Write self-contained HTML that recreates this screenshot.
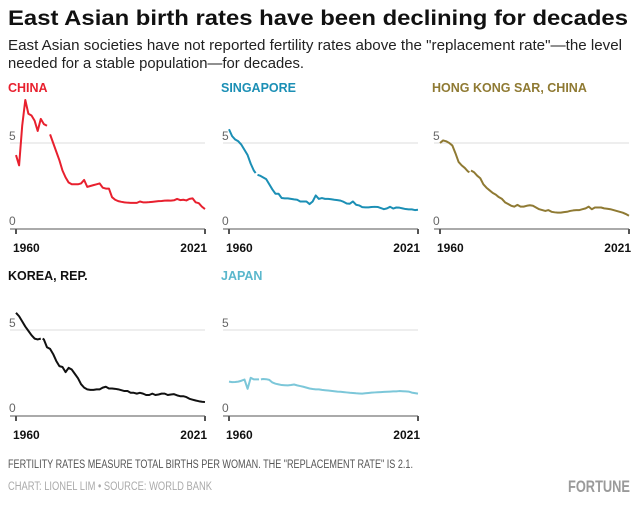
<!DOCTYPE html>
<html><head><meta charset="utf-8"><style>
body{margin:0;width:639px;height:505px;background:#fff;overflow:hidden;font-family:"Liberation Sans",sans-serif}
svg{position:absolute;left:0;top:0}
</style></head><body>
<svg width="639" height="505" viewBox="0 0 639 505" font-family="Liberation Sans, sans-serif">
<text x="8" y="25" font-size="21" font-weight="bold" fill="#111" textLength="620" lengthAdjust="spacingAndGlyphs">East Asian birth rates have been declining for decades</text>
<text x="8" y="50" font-size="15" fill="#222" textLength="614" lengthAdjust="spacingAndGlyphs">East Asian societies have not reported fertility rates above the "replacement rate"—the level</text>
<text x="8" y="68" font-size="15" fill="#222" textLength="296" lengthAdjust="spacingAndGlyphs">needed for a stable population—for decades.</text>

<defs>
<g id="axes">
<line x1="-6" y1="-86" x2="189" y2="-86" stroke="#ddd" stroke-width="1"/>
<line x1="-6" y1="0" x2="189" y2="0" stroke="#555" stroke-width="1"/>
<line x1="0" y1="0" x2="0" y2="5" stroke="#555"/>
<line x1="189" y1="0" x2="189" y2="5" stroke="#555"/>
<text x="-7" y="-89" font-size="12" fill="#666">5</text>
<text x="-7" y="-4" font-size="12" fill="#666">0</text>
<text x="-3" y="23" font-size="12" font-weight="bold" fill="#111">1960</text>
<text x="191" y="23" font-size="12" font-weight="bold" fill="#111" text-anchor="end">2021</text>
</g>
</defs>

<g font-size="12.5" font-weight="bold">
<text x="8" y="92" fill="#e8202e">CHINA</text>
<text x="221" y="92" fill="#1b8fb5">SINGAPORE</text>
<text x="432" y="92" fill="#8f7a33">HONG KONG SAR, CHINA</text>
<text x="8" y="280" fill="#111">KOREA, REP.</text>
<text x="221" y="280" fill="#5ab7cc">JAPAN</text>
</g>

<g fill="none" stroke-width="2" stroke-linejoin="round">
<g transform="translate(16,229)"><use href="#axes"/>
<g transform="scale(3.098,-17.2)">
<polyline vector-effect="non-scaling-stroke" stroke="#e8202e" points="0,4.3 1,3.7 2,6.0 3,7.5 4,6.7 5,6.6 6,6.3 7,5.7 8,6.4 9,6.1 10,6.0"/>
<polyline vector-effect="non-scaling-stroke" stroke="#e8202e" points="11,5.5 12,5.0 13,4.5 14,4.0 15,3.4 16,3.0 17,2.7 18,2.6 19,2.6 20,2.6 21,2.65 22,2.85 23,2.45 24,2.5 25,2.55 26,2.6 27,2.65 28,2.4 29,2.35 30,2.35 31,1.85 32,1.7 33,1.62 34,1.58 35,1.55 36,1.53 37,1.52 38,1.52 39,1.52 40,1.6 41,1.55 42,1.55 43,1.56 44,1.58 45,1.6 46,1.62 47,1.63 48,1.65 49,1.66 50,1.65 51,1.67 52,1.75 53,1.68 54,1.7 55,1.66 56,1.75 57,1.78 58,1.55 59,1.5 60,1.3 61,1.16"/>
</g></g>
<g transform="translate(229,229)"><use href="#axes"/>
<g transform="scale(3.098,-17.2)">
<polyline vector-effect="non-scaling-stroke" stroke="#1b8fb5" points="0,5.8 1,5.4 2,5.2 3,5.1 4,4.9 5,4.6 6,4.3 7,3.8 8,3.4 8.6,3.25"/>
<polyline vector-effect="non-scaling-stroke" stroke="#1b8fb5" points="9.2,3.15 10,3.1 11,3.0 12,2.9 13,2.6 14,2.3 15,2.05 16,2.05 17,1.8 18,1.78 19,1.78 20,1.75 21,1.72 22,1.7 23,1.6 24,1.6 25,1.6 26,1.45 27,1.6 28,1.95 29,1.75 30,1.8 31,1.75 32,1.75 33,1.73 34,1.7 35,1.68 36,1.65 37,1.58 38,1.48 39,1.47 40,1.6 41,1.41 42,1.37 43,1.27 44,1.26 45,1.26 46,1.28 47,1.29 48,1.28 49,1.22 50,1.15 51,1.2 52,1.29 53,1.19 54,1.25 55,1.24 56,1.2 57,1.16 58,1.14 59,1.14 60,1.1 61,1.12"/>
</g></g>
<g transform="translate(440,229)"><use href="#axes"/>
<g transform="scale(3.098,-17.2)">
<polyline vector-effect="non-scaling-stroke" stroke="#8f7a33" points="0,5.0 1,5.15 2,5.1 3,5.0 4,4.85 5,4.4 6,3.9 7,3.7 8,3.55 9,3.35 9.5,3.3"/>
<polyline vector-effect="non-scaling-stroke" stroke="#8f7a33" points="10,3.4 11,3.3 12,3.1 13,2.95 14,2.6 15,2.4 16,2.25 17,2.1 18,2.0 19,1.85 20,1.75 21,1.55 22,1.45 23,1.35 24,1.3 25,1.4 26,1.3 27,1.3 28,1.35 29,1.38 30,1.35 31,1.25 32,1.15 33,1.1 34,1.05 35,1.1 36,1.0 37,0.97 38,0.95 39,0.95 40,0.98 41,1.0 42,1.05 43,1.08 44,1.1 45,1.1 46,1.15 47,1.2 48,1.3 49,1.15 50,1.25 51,1.25 52,1.25 53,1.2 54,1.18 55,1.15 56,1.1 57,1.05 58,1.0 59,0.95 60,0.87 61,0.77"/>
</g></g>
<g transform="translate(16,416)"><use href="#axes"/>
<g transform="scale(3.098,-17.2)">
<polyline vector-effect="non-scaling-stroke" stroke="#111" points="0,6.0 1,5.8 2,5.5 3,5.2 4,4.95 5,4.7 6,4.5 7,4.45 8,4.5"/>
<polyline vector-effect="non-scaling-stroke" stroke="#111" points="8.6,4.5 9,4.45 10,4.0 11,3.9 12,3.6 13,3.2 14,2.9 15,2.85 16,2.55 17,2.8 18,2.7 19,2.45 20,2.2 21,1.85 22,1.65 23,1.55 24,1.52 25,1.52 26,1.55 27,1.55 28,1.65 29,1.7 30,1.6 31,1.6 32,1.58 33,1.55 34,1.5 35,1.45 36,1.45 37,1.35 38,1.35 39,1.3 40,1.35 41,1.3 42,1.22 43,1.22 44,1.3 45,1.22 46,1.25 47,1.3 48,1.3 49,1.22 50,1.25 51,1.27 52,1.2 53,1.15 54,1.15 55,1.1 56,1.0 57,0.95 58,0.9 59,0.86 60,0.83 61,0.81"/>
</g></g>
<g transform="translate(229,416)"><use href="#axes"/>
<g transform="scale(3.098,-17.2)">
<polyline vector-effect="non-scaling-stroke" stroke="#7cc7d9" points="0,2.0 1,1.97 2,1.98 3,2.0 4,2.05 5,2.12 6,1.58 7,2.22 8,2.13 9,2.13 9.7,2.13"/>
<polyline vector-effect="non-scaling-stroke" stroke="#7cc7d9" points="10.3,2.13 11,2.15 12,2.14 13,2.1 14,1.95 15,1.88 16,1.84 17,1.8 18,1.79 19,1.78 20,1.8 21,1.83 22,1.78 23,1.74 24,1.7 25,1.65 26,1.6 27,1.57 28,1.55 29,1.55 30,1.52 31,1.5 32,1.48 33,1.46 34,1.44 35,1.42 36,1.41 37,1.39 38,1.37 39,1.35 40,1.34 41,1.32 42,1.31 43,1.3 44,1.32 45,1.34 46,1.36 47,1.37 48,1.38 49,1.39 50,1.4 51,1.41 52,1.42 53,1.43 54,1.43 55,1.45 56,1.44 57,1.43 58,1.42 59,1.36 60,1.33 61,1.3"/>
</g></g>
</g>

<text x="8" y="468" font-size="11.5" fill="#555" textLength="405" lengthAdjust="spacingAndGlyphs">FERTILITY RATES MEASURE TOTAL BIRTHS PER WOMAN. THE "REPLACEMENT RATE" IS 2.1.</text>
<text x="8" y="490" font-size="11.5" fill="#aaa" textLength="204" lengthAdjust="spacingAndGlyphs">CHART: LIONEL LIM • SOURCE: WORLD BANK</text>
<text x="630" y="492" font-size="17" font-weight="bold" fill="#9a9a9a" text-anchor="end" textLength="62" lengthAdjust="spacingAndGlyphs">FORTUNE</text>
</svg>
</body></html>
